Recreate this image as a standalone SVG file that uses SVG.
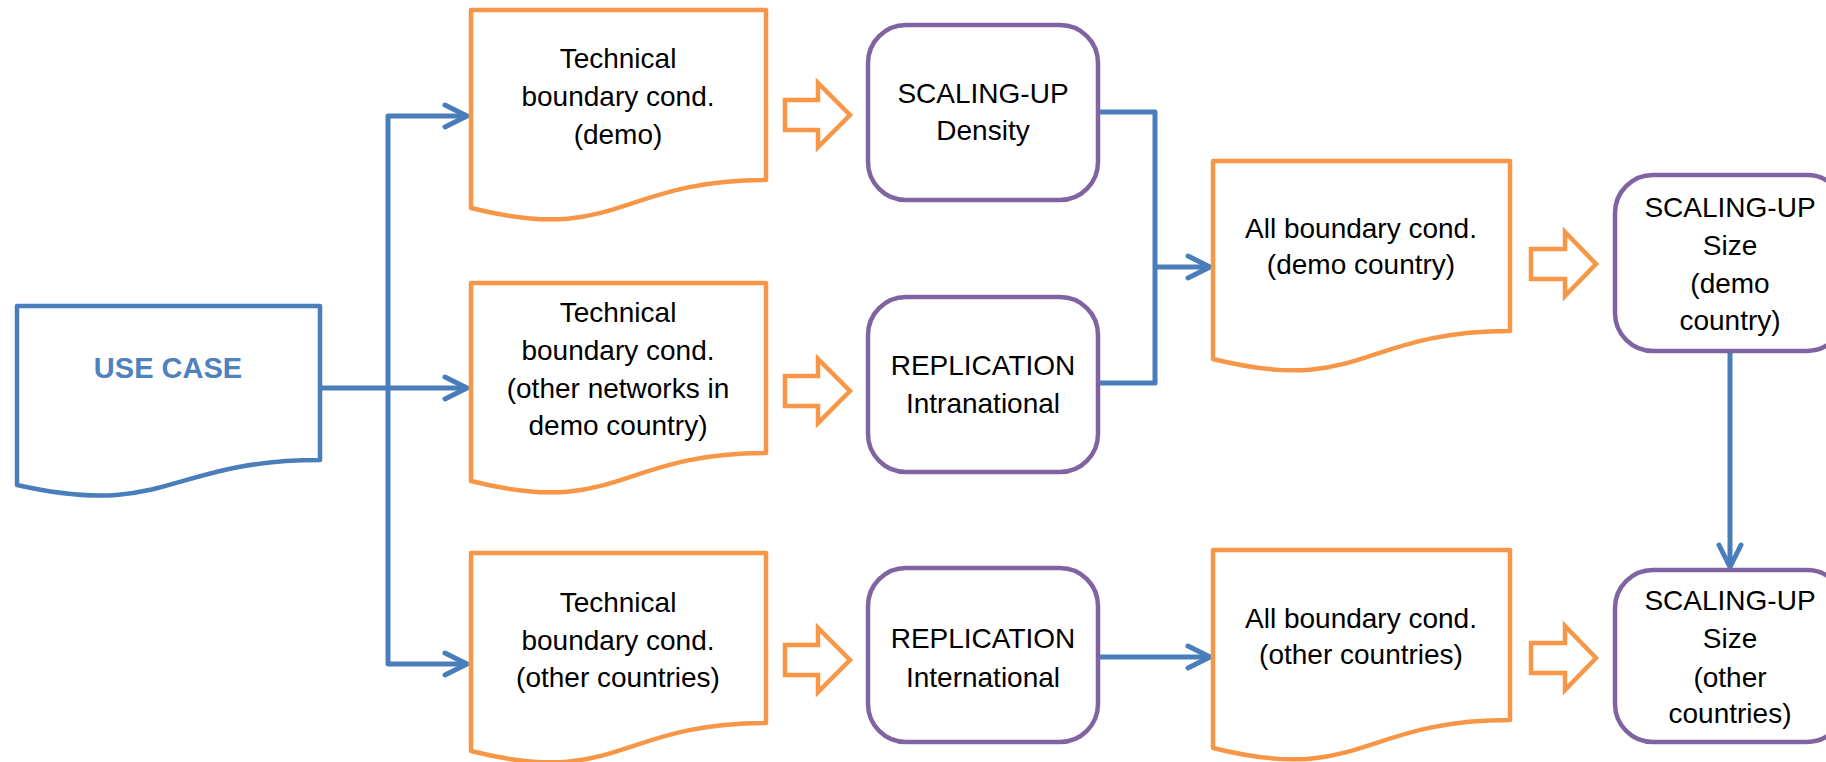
<svg xmlns="http://www.w3.org/2000/svg" width="1826" height="762" viewBox="0 0 1826 762">
  <style>
    .doc { fill: #ffffff; stroke: #F79646; stroke-width: 4.5; stroke-linejoin: round; }
    .doc-blue { fill: #ffffff; stroke: #4A7EBB; stroke-width: 4.5; stroke-linejoin: round; }
    .proc { fill: #ffffff; stroke: #8064A2; stroke-width: 4.5; }
    .barrow { fill: #ffffff; stroke: #F79646; stroke-width: 4.5; stroke-linejoin: miter; }
    .conn { fill: none; stroke: #4A7EBB; stroke-width: 5; stroke-linejoin: round; }
    .lbl { font-family: "Liberation Sans", Arial, sans-serif; font-size: 28px; fill: #000000; text-anchor: middle; }
    .title { font-family: "Liberation Sans", Arial, sans-serif; font-size: 29px; font-weight: bold; fill: #4F81BD; text-anchor: middle; }
  </style>
  <defs>
    <marker id="chev" markerUnits="userSpaceOnUse" viewBox="0 0 30 30" refX="26" refY="15" markerWidth="30" markerHeight="30" orient="auto">
      <path d="M4,4 L26,15 L4,26" fill="none" stroke="#4A7EBB" stroke-width="5" stroke-linecap="round" stroke-linejoin="round"/>
    </marker>
  </defs>

  <!-- connectors -->
  <g id="connectors">
    <path class="conn" d="M320,388 H467" marker-end="url(#chev)"/>
    <path class="conn" d="M388,388 V116 H467" marker-end="url(#chev)"/>
    <path class="conn" d="M388,388 V664 H467" marker-end="url(#chev)"/>
    <path class="conn" d="M1098,112 H1155 V383 H1098"/>
    <path class="conn" d="M1155,267 H1210" marker-end="url(#chev)"/>
    <path class="conn" d="M1098,657 H1210" marker-end="url(#chev)"/>
    <path class="conn" d="M1730,351 V567" marker-end="url(#chev)"/>
  </g>

  <!-- use case document -->
  <g id="use-case">
    <path class="doc-blue" d="M17,306 H320 V460 C168,460 168,519 17,485 Z"/>
    <text class="title" x="168" y="378">USE CASE</text>
  </g>

  <!-- technical boundary conditions -->
  <g id="tech-demo">
    <path class="doc" d="M471,10 H766 V180 C618,180 618,245 471,208 Z"/>
    <text class="lbl" x="618" y="68">Technical</text>
    <text class="lbl" x="618" y="106">boundary cond.</text>
    <text class="lbl" x="618" y="144">(demo)</text>
  </g>
  <g id="tech-other-networks">
    <path class="doc" d="M471,283 H766 V453 C618,453 618,518 471,481 Z"/>
    <text class="lbl" x="618" y="322">Technical</text>
    <text class="lbl" x="618" y="360">boundary cond.</text>
    <text class="lbl" x="618" y="398">(other networks in</text>
    <text class="lbl" x="618" y="435">demo country)</text>
  </g>
  <g id="tech-other-countries">
    <path class="doc" d="M471,553 H766 V723 C618,723 618,788 471,751 Z"/>
    <text class="lbl" x="618" y="612">Technical</text>
    <text class="lbl" x="618" y="650">boundary cond.</text>
    <text class="lbl" x="618" y="687">(other countries)</text>
  </g>

  <!-- block arrows -->
  <g id="barrow-1"><path class="barrow" d="M785,100 H818 V83 L850,115 L818,147 V130 H785 Z"/></g>
  <g id="barrow-2"><path class="barrow" d="M785,376 H818 V359 L850,391 L818,423 V406 H785 Z"/></g>
  <g id="barrow-3"><path class="barrow" d="M785,645 H818 V628 L850,660 L818,692 V675 H785 Z"/></g>
  <g id="barrow-4"><path class="barrow" d="M1531,249 H1565 V232 L1596,264 L1565,296 V279 H1531 Z"/></g>
  <g id="barrow-5"><path class="barrow" d="M1531,643 H1565 V626 L1596,658 L1565,690 V673 H1531 Z"/></g>

  <!-- process boxes -->
  <g id="scaling-density">
    <rect class="proc" x="868" y="25" width="230" height="175" rx="38" ry="38"/>
    <text class="lbl" x="983" y="103">SCALING-UP</text>
    <text class="lbl" x="983" y="140">Density</text>
  </g>
  <g id="replication-intranational">
    <rect class="proc" x="868" y="297" width="230" height="175" rx="38" ry="38"/>
    <text class="lbl" x="983" y="375">REPLICATION</text>
    <text class="lbl" x="983" y="413">Intranational</text>
  </g>
  <g id="replication-international">
    <rect class="proc" x="868" y="568" width="230" height="174" rx="38" ry="38"/>
    <text class="lbl" x="983" y="648">REPLICATION</text>
    <text class="lbl" x="983" y="687">International</text>
  </g>

  <!-- all boundary conditions -->
  <g id="all-demo">
    <path class="doc" d="M1213,161 H1510 V331 C1361,331 1361,396 1213,359 Z"/>
    <text class="lbl" x="1361" y="238">All boundary cond.</text>
    <text class="lbl" x="1361" y="274">(demo country)</text>
  </g>
  <g id="all-other">
    <path class="doc" d="M1213,550 H1510 V720 C1361,720 1361,785 1213,748 Z"/>
    <text class="lbl" x="1361" y="628">All boundary cond.</text>
    <text class="lbl" x="1361" y="664">(other countries)</text>
  </g>

  <!-- size scaling boxes -->
  <g id="scaling-size-demo">
    <rect class="proc" x="1615" y="175" width="230" height="176" rx="38" ry="38"/>
    <text class="lbl" x="1730" y="217">SCALING-UP</text>
    <text class="lbl" x="1730" y="255">Size</text>
    <text class="lbl" x="1730" y="293">(demo</text>
    <text class="lbl" x="1730" y="330">country)</text>
  </g>
  <g id="scaling-size-other">
    <rect class="proc" x="1615" y="570" width="230" height="172" rx="38" ry="38"/>
    <text class="lbl" x="1730" y="610">SCALING-UP</text>
    <text class="lbl" x="1730" y="648">Size</text>
    <text class="lbl" x="1730" y="687">(other</text>
    <text class="lbl" x="1730" y="723">countries)</text>
  </g>
</svg>
